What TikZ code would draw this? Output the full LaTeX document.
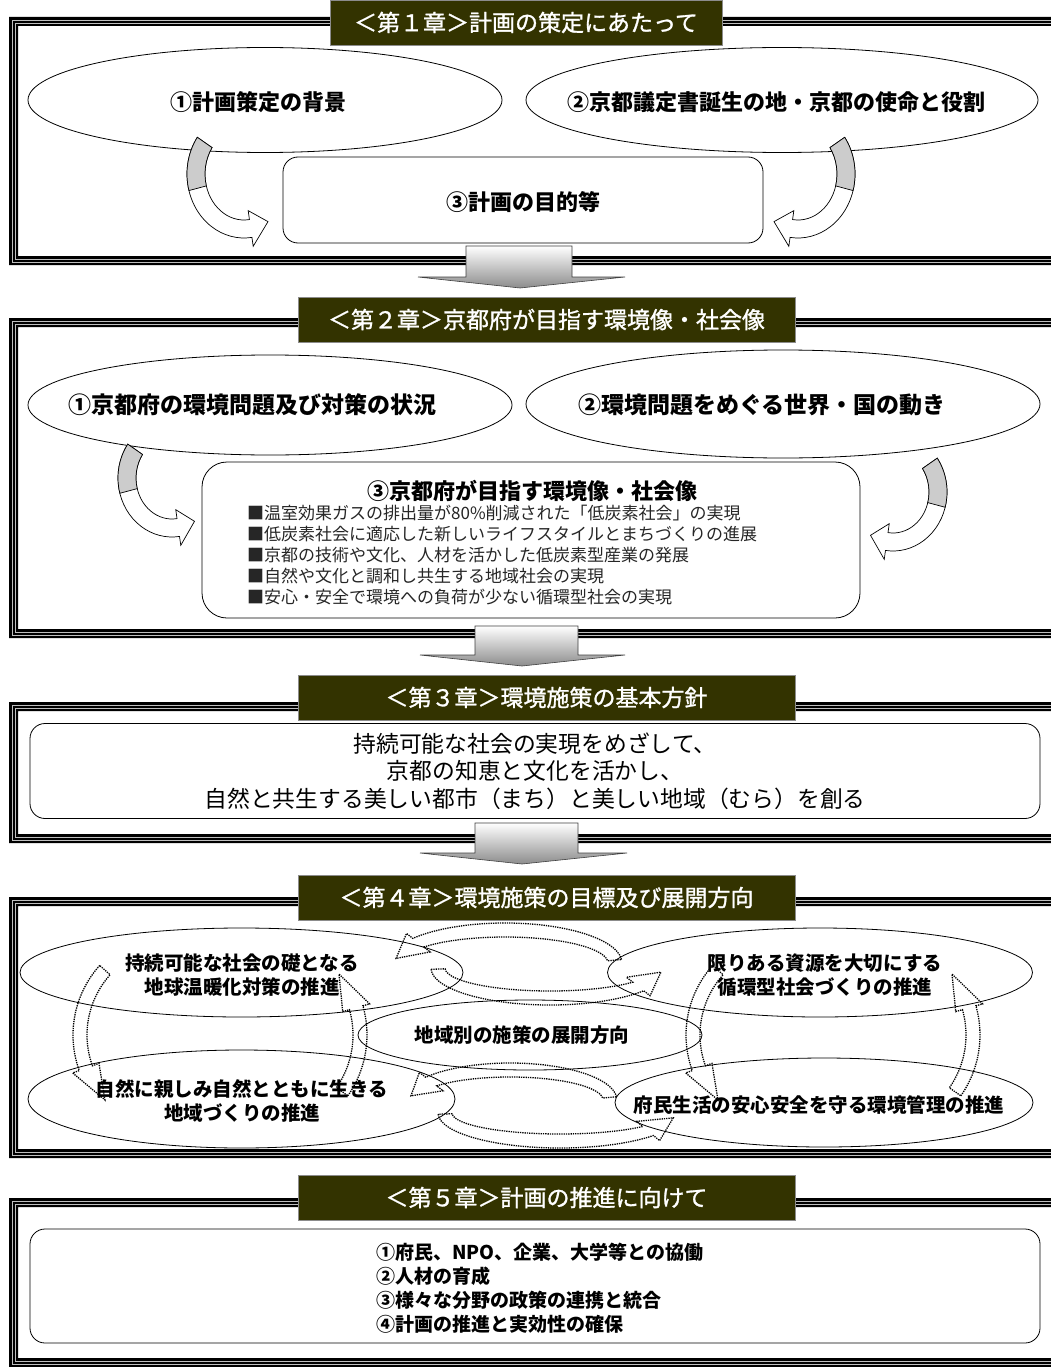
\documentclass[tikz,border=0pt]{standalone}
\usepackage{fontspec}
\setmainfont{Noto Sans CJK JP}
\newfontfamily\bnrfont{Noto Sans CJK JP}[FakeBold=1.2]
\usetikzlibrary{shapes.geometric,calc}
\definecolor{olv}{RGB}{51,51,0}
\newcommand{\fsz}[2]{\fontsize{#1}{#2}\selectfont}
\newcommand{\chframe}[2]{%
  \fill[black, even odd rule] (9,#1) rectangle (1070,#2) (18,{#1+9}) rectangle (1061,{#2-9});
  \draw[gray!50, line width=0.8] (12,{#1+3}) rectangle (1067,{#2-3});
  \draw[gray!50, line width=0.8] (15,{#1+6}) rectangle (1064,{#2-6});}
\newcommand{\bandarrow}[9][]{%
  \pgfmathsetmacro\myrxo{#3+#7}\pgfmathsetmacro\myryo{#4+#7}%
  \pgfmathsetmacro\myrxi{#3-#7}\pgfmathsetmacro\myryi{#4-#7}%
  \pgfmathsetmacro\myrxh{#3+#8}\pgfmathsetmacro\myryh{#4+#8}%
  \pgfmathsetmacro\myrxk{#3-#8}\pgfmathsetmacro\myryk{#4-#8}%
  \pgfmathsetmacro\myhb{#6-#9*sign(#6-#5)}%
  \draw[#1] ($#2+({\myrxo*cos(#5)},{\myryo*sin(#5)})$)
    arc[start angle=#5, end angle=\myhb, x radius=\myrxo, y radius=\myryo]
    -- ($#2+({\myrxh*cos(\myhb)},{\myryh*sin(\myhb)})$)
    -- ($#2+({#3*cos(#6)},{#4*sin(#6)})$)
    -- ($#2+({\myrxk*cos(\myhb)},{\myryk*sin(\myhb)})$)
    -- ($#2+({\myrxi*cos(\myhb)},{\myryi*sin(\myhb)})$)
    arc[start angle=\myhb, end angle=#5, x radius=\myrxi, y radius=\myryi] -- cycle;}
\newcommand{\bandseg}[7][]{%
  \pgfmathsetmacro\myrxo{#3+#7}\pgfmathsetmacro\myryo{#4+#7}%
  \pgfmathsetmacro\myrxi{#3-#7}\pgfmathsetmacro\myryi{#4-#7}%
  \draw[#1] ($#2+({\myrxo*cos(#5)},{\myryo*sin(#5)})$)
    arc[start angle=#5, end angle=#6, x radius=\myrxo, y radius=\myryo]
    -- ($#2+({\myrxi*cos(#6)},{\myryi*sin(#6)})$)
    arc[start angle=#6, end angle=#5, x radius=\myrxi, y radius=\myryi] -- cycle;}
\tikzset{
  banner/.style={fill=olv, draw=black!45, line width=0.8, text=white, font=\bnrfont\fsz{23}{27}, minimum width=497, minimum height=45, inner sep=0},
  ell/.style={ellipse, draw, line width=0.8, inner sep=0},
  rbox/.style={rectangle, draw, line width=0.8, rounded corners=15, inner sep=0},
  big/.style={font=\bfseries\fsz{22}{26}, inner sep=0},
  mid/.style={font=\bfseries\fsz{19.5}{24.5}, inner sep=0},
  cyc/.style={densely dotted, line width=1.3},
  carr/.style={draw, line width=0.7, fill=white},
  gseg/.style={draw, line width=0.7, fill=black!20},
  dnarr/.style={draw=black!75, line width=0.6, top color=white, bottom color=black!45},
}
\begin{document}
\begin{tikzpicture}[x=1pt,y=-1pt]
\useasboundingbox (0,0) rectangle (1051,1367);
\clip (0,0) rectangle (1051,1367);
\fill[white] (0,0) rectangle (1051,1367);
% frames
\chframe{17}{265}
\chframe{318}{638}
\chframe{702}{843}
\chframe{897}{1158}
\chframe{1198}{1367}
% down arrows
\path[dnarr] (466,246) -- (572,246) -- (572,277) -- (625,277) -- (520,288) -- (418,277) -- (466,277) -- cycle;
\path[dnarr] (475,626) -- (578,626) -- (578,655) -- (625,655) -- (522,666) -- (420,655) -- (475,655) -- cycle;
\path[dnarr] (475,823) -- (578,823) -- (578,853) -- (627,853) -- (522,864) -- (420,853) -- (475,853) -- cycle;
% banners
\node[banner, minimum width=392] (b1) at (526,22.5) {＜第１章＞計画の策定にあたって};
\node[banner] (b2) at (546.5,319.5) {＜第２章＞京都府が目指す環境像・社会像};
\node[banner] (b3) at (546.5,697.5) {＜第３章＞環境施策の基本方針};
\node[banner] (b4) at (546.5,897.5) {＜第４章＞環境施策の目標及び展開方向};
\node[banner] (b5) at (546.5,1197.5) {＜第５章＞計画の推進に向けて};
% chapter 1
\node[ell, minimum width=474, minimum height=105] (e11) at (265,100) {};
\node[ell, minimum width=512, minimum height=105] (e12) at (782,100) {};
\node[big] (t11) at (258,102) {①計画策定の背景};
\node[big] (t12) at (776,102) {②京都議定書誕生の地・京都の使命と役割};
\node[rbox, minimum width=480, minimum height=86] (r13) at (523,200) {};
\node[big] (t13) at (523,202) {③計画の目的等};
\bandarrow[carr]{(244,174)}{48}{55}{215}{60}{9}{18}{22}
\bandseg[gseg]{(244,174)}{48}{55}{215}{165}{9}
\bandarrow[carr]{(798,174)}{48}{55}{-35}{120}{9}{18}{22}
\bandseg[gseg]{(798,174)}{48}{55}{-35}{15}{9}
% chapter 2
\node[ell, minimum width=484, minimum height=100] (e21) at (270,405) {};
\node[ell, minimum width=514, minimum height=108] (e22) at (783,404) {};
\node[big, font=\bfseries\fsz{23}{27}] (t21) at (252,405) {①京都府の環境問題及び対策の状況};
\node[big, font=\bfseries\fsz{23}{27}] (t22) at (762,405) {②環境問題をめぐる世界・国の動き};
\node[rbox, rounded corners=25, minimum width=658, minimum height=156] (r23) at (531,540) {};
\node[big] (t23) at (532,491) {③京都府が目指す環境像・社会像};
\foreach \t [count=\i] in {{■温室効果ガスの排出量が80\%削減された「低炭素社会」の実現},
  {■低炭素社会に適応した新しいライフスタイルとまちづくりの進展},
  {■京都の技術や文化、人材を活かした低炭素型産業の発展},
  {■自然や文化と調和し共生する地域社会の実現},
  {■安心・安全で環境への負荷が少ない循環型社会の実現}}
  \node[anchor=west, inner sep=0, font=\fsz{17}{20}, text=black!85] (li\i) at (247,{513+21*(\i-1)}) {\t};
\bandarrow[carr]{(172,478)}{45}{50}{215}{60}{9}{18}{22}
\bandseg[gseg]{(172,478)}{45}{50}{215}{165}{9}
\bandarrow[carr]{(893,492)}{45}{50}{-35}{120}{9}{18}{22}
\bandseg[gseg]{(893,492)}{45}{50}{-35}{15}{9}
% chapter 3
\node[rbox, minimum width=1010, minimum height=95, align=center, font=\fsz{22.8}{27.5}] (r3) at (535,771)
  {持続可能な社会の実現をめざして、\\京都の知恵と文化を活かし、\\自然と共生する美しい都市（まち）と美しい地域（むら）を創る};
% chapter 4
\node[ell, minimum width=443, minimum height=89] (e41) at (241.5,972.5) {};
\node[ell, minimum width=425, minimum height=89] (e42) at (820,972.5) {};
\node[ell, minimum width=344, minimum height=70] (e43) at (530,1035) {};
\node[ell, minimum width=427, minimum height=98] (e44) at (241.5,1099) {};
\node[ell, minimum width=418, minimum height=89] (e45) at (824,1102.5) {};
% cycles
\bandarrow[cyc]{(505,963)}{110}{33}{-5}{-172}{7}{15}{30}
\bandarrow[cyc]{(550,968)}{112}{30}{178}{8}{7}{15}{30}
\bandarrow[cyc]{(510,1100)}{100}{30}{-5}{-172}{7}{15}{30}
\bandarrow[cyc]{(560,1113)}{115}{28}{178}{10}{7}{15}{30}
\bandarrow[cyc]{(177,1035)}{97}{97}{222}{138}{7}{14}{22}
\bandarrow[cyc]{(261,1035)}{99}{99}{35}{-38}{7}{14}{22}
\bandarrow[cyc]{(790,1035)}{97}{97}{222}{138}{7}{14}{22}
\bandarrow[cyc]{(874,1035)}{99}{99}{35}{-38}{7}{14}{22}
% chapter 4 texts
\node[mid, align=center] (t41) at (242,975) {持続可能な社会の礎となる\\地球温暖化対策の推進};
\node[mid, align=center] (t42) at (825,975) {限りある資源を大切にする\\循環型社会づくりの推進};
\node[mid] (t43) at (522,1035) {地域別の施策の展開方向};
\node[mid, align=center] (t44) at (242,1101) {自然に親しみ自然とともに生きる\\地域づくりの推進};
\node[mid] (t45) at (819,1105) {府民生活の安心安全を守る環境管理の推進};
% chapter 5
\node[rbox, minimum width=1010, minimum height=114] (r5) at (535,1286) {};
\foreach \t [count=\i] in {{①府民、NPO、企業、大学等との協働},{②人材の育成},{③様々な分野の政策の連携と統合},{④計画の推進と実効性の確保}}
  \node[anchor=west, inner sep=0, font=\bfseries\fsz{19}{23}] (p\i) at (376,{1252+24*(\i-1)}) {\t};
\end{tikzpicture}
\end{document}
